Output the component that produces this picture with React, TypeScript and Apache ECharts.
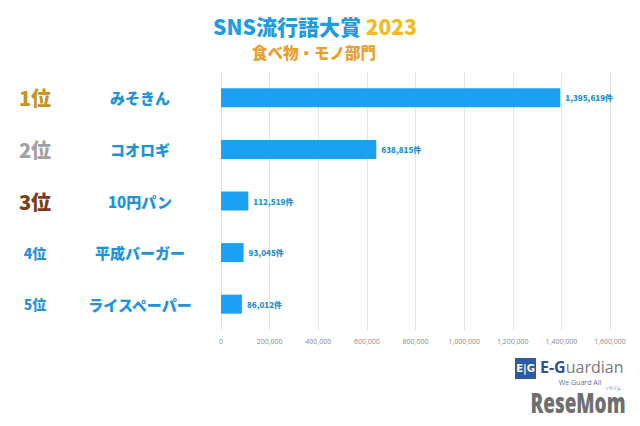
import React, { useEffect, useRef } from "react";
import * as echarts from "echarts";

const ranks = ["1位", "2位", "3位", "4位", "5位"];
const categories = ["みそきん", "コオロギ", "10円パン", "平成バーガー", "ライスペーパー"];
const counts = [1395619, 638815, 112519, 93045, 86012];
const xTicks = [0, 200000, 400000, 600000, 800000, 1000000, 1200000, 1400000, 1600000];

const fmt = (v: number) => v.toLocaleString("en-US");
const FONT = "'Noto Sans CJK JP', 'Noto Sans', sans-serif";

export default function App() {
  const ref = useRef<HTMLDivElement>(null);
  useEffect(() => {
    if (!ref.current) return;
    const chart = echarts.init(ref.current, null, { renderer: "svg" });
    const rankStyle = ["r1", "r2", "r3", "r4", "r4"];
    chart.setOption({
      animation: false,
      backgroundColor: "#ffffff",
      textStyle: { fontFamily: FONT },
      grid: { left: 221, right: 30, top: 72, bottom: 96, containLabel: false },
      xAxis: {
        type: "value",
        min: xTicks[0],
        max: xTicks[xTicks.length - 1],
        interval: xTicks[1] - xTicks[0],
        axisLine: { show: false },
        axisTick: { show: false },
        splitLine: { lineStyle: { color: "#e4e4e4", width: 1 } },
        axisLabel: {
          formatter: (v: number) => fmt(v),
          fontSize: 7,
          color: "#8a8a8a",
          margin: 8,
          fontFamily: "'Open Sans', sans-serif",
        },
      },
      yAxis: {
        type: "category",
        inverse: true,
        data: categories,
        axisLine: { show: false },
        axisTick: { show: false },
        axisLabel: {
          margin: 11,
          formatter: (v: string, i: number) => `{${rankStyle[i]}|${ranks[i]}}{n|${v}}`,
          rich: {
            r1: { width: 70, align: "center", fontSize: 20, fontWeight: 900, color: "#c5951c", fontFamily: FONT },
            r2: { width: 70, align: "center", fontSize: 20, fontWeight: 900, color: "#a2a2a2", fontFamily: FONT },
            r3: { width: 70, align: "center", fontSize: 20, fontWeight: 900, color: "#7a3d14", fontFamily: FONT },
            r4: { width: 70, align: "center", fontSize: 14, fontWeight: 900, color: "#2592d8", fontFamily: FONT },
            n: { width: 140, align: "center", fontSize: 15, fontWeight: 900, color: "#2092dc", fontFamily: FONT },
          },
        },
      },
      series: [
        {
          type: "bar",
          data: counts,
          barWidth: 19,
          itemStyle: { color: "#1ba0f2" },
          label: {
            show: true,
            position: "right",
            distance: 5,
            formatter: (p: any) => fmt(p.value) + "件",
            fontSize: 8,
            fontWeight: 900,
            color: "#2590d2",
            fontFamily: FONT,
          },
        },
      ],
      graphic: [
        {
          type: "text",
          x: 315,
          y: 26,
          style: {
            text: "{a|SNS流行語大賞}{b| 2023}",
            align: "center",
            verticalAlign: "middle",
            rich: {
              a: { fontSize: 21, fontWeight: 900, fill: "#1f9be0", fontFamily: FONT },
              b: { fontSize: 21, fontWeight: 900, fill: "#f5bb1c", fontFamily: FONT },
            },
          },
        },
        {
          type: "text",
          x: 314,
          y: 52,
          style: {
            text: "食べ物・モノ部門",
            align: "center",
            verticalAlign: "middle",
            fontSize: 15.5,
            fontWeight: 900,
            fill: "#e9a02e",
            fontFamily: FONT,
          },
        },
        {
          type: "group",
          children: [
            { type: "rect", shape: { x: 515, y: 358, width: 21, height: 21 }, style: { fill: "#2d5aa6" } },
            {
              type: "text",
              x: 525.5,
              y: 368.5,
              style: { text: "E|G", align: "center", verticalAlign: "middle", fontSize: 10, fontWeight: "bold", fill: "#ffffff", fontFamily: "'DejaVu Sans', sans-serif" },
            },
            {
              type: "text",
              x: 540,
              y: 367,
              style: {
                text: "{a|E-G}{b|uardian}",
                verticalAlign: "middle",
                rich: {
                  a: { fontSize: 16, fontWeight: "bold", fill: "#2f4f97", fontFamily: "'Open Sans', sans-serif" },
                  b: { fontSize: 16, fill: "#7a7a7a", fontFamily: "'Open Sans', sans-serif" },
                },
              },
            },
            {
              type: "text",
              x: 580,
              y: 382,
              style: { text: "We Guard All", align: "center", verticalAlign: "middle", fontSize: 7, fill: "#5a6e9a", fontFamily: "'Open Sans', sans-serif" },
            },
            {
              type: "text",
              x: 578,
              y: 403,
              scaleX: 0.9,
              scaleY: 1.3,
              style: { text: "ReseMom", align: "center", verticalAlign: "middle", fontSize: 21, fontWeight: 900, fill: "#6f6f6f", fontFamily: "'Noto Sans', sans-serif" },
            },
            {
              type: "text",
              x: 613,
              y: 388,
              style: { text: "リセマム", align: "center", verticalAlign: "middle", fontSize: 4, fill: "#777777", fontFamily: FONT },
            },
          ],
        },
      ],
    });
    return () => chart.dispose();
  }, []);
  return <div ref={ref} style={{ position: "fixed", left: 0, top: 0, width: 640, height: 426 }} />;
}
